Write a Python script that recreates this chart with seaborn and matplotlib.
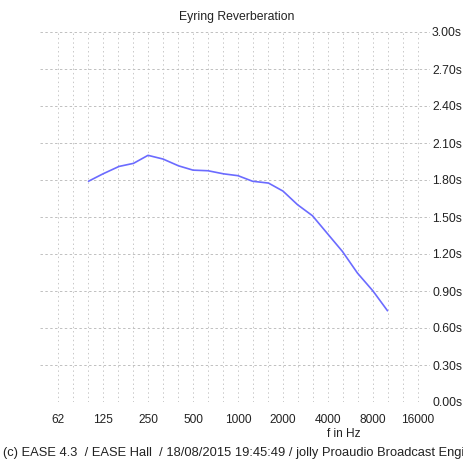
import numpy as np
import pandas as pd
import matplotlib
matplotlib.use("Agg")
import matplotlib.pyplot as plt
import seaborn as sns

# Third-octave band centre frequencies (Hz)
freqs = [100, 125, 160, 200, 250, 315, 400, 500, 630, 800, 1000, 1250,
         1600, 2000, 2500, 3150, 4000, 5000, 6300, 8000, 10000]
# Eyring reverberation time (s)
rt = [1.79, 1.85, 1.91, 1.935, 2.00, 1.97, 1.915, 1.88, 1.875, 1.85, 1.835,
      1.79, 1.775, 1.71, 1.60, 1.51, 1.36, 1.22, 1.045, 0.90, 0.74]

xtick_vals = [62.5, 125, 250, 500, 1000, 2000, 4000, 8000, 16000]
xtick_labels = ["62", "125", "250", "500", "1000", "2000", "4000", "8000", "16000"]
ytick_vals = [0.0, 0.3, 0.6, 0.9, 1.2, 1.5, 1.8, 2.1, 2.4, 2.7, 3.0]
ytick_labels = ["0.00s", "0.30s", "0.60s", "0.90s", "1.20s", "1.50s",
                "1.80s", "2.10s", "2.40s", "2.70s", "3.00s"]

title = "Eyring Reverberation"
xlabel = "f in Hz"
# footer as visible in the reference (cut at the image edge there)
footer = "(c) EASE 4.3  / EASE Hall  / 18/08/2015 19:45:49 / jolly Proaudio Broadcast Engi"

sns.set_style("white")
plt.rcParams["font.family"] = ["Liberation Sans", "DejaVu Sans"]

W = H = 463
fig = plt.figure(figsize=(W / 100, H / 100), dpi=100)
ax = fig.add_axes([40 / W, 1 - 402 / H, (430 - 40) / W, (402 - 32) / H])

df = pd.DataFrame({"f": freqs, "rt": rt})
sns.lineplot(data=df, x="f", y="rt", ax=ax, color="#6b6bff", linewidth=1.2)

ax.set_xscale("log", base=2)
px_per_oct = 45.0
ax.set_xlim(62.5 * 2 ** (-18 / px_per_oct), 16000 * 2 ** (12 / px_per_oct))
ax.set_ylim(0, 3.0)

# grid: vertical dotted lines at third-octave positions
third_oct = [62.5 * 2 ** (k / 3) for k in range(25)]
for f in third_oct:
    ax.axvline(f, color="#c8c8c8", linestyle=(0, (1.5, 3)), linewidth=0.7, zorder=0)
for v in ytick_vals:
    ax.axhline(v, color="#c0c0c0", linestyle=(0, (2.5, 2.5)), linewidth=0.7, zorder=0)

ax.set_xticks(xtick_vals)
ax.set_xticklabels(xtick_labels)
ax.minorticks_off()
ax.set_yticks(ytick_vals)
ax.set_yticklabels(ytick_labels)
ax.yaxis.tick_right()
ax.tick_params(axis="both", length=0, colors="#222222")
ax.tick_params(axis="x", pad=8.5, labelsize=8.6)
ax.tick_params(axis="y", pad=1.5, labelsize=8.8)
ax.set_xlabel("")
ax.set_ylabel("")
for s in ax.spines.values():
    s.set_visible(False)

fig.text(237 / W, 1 - 17 / H, title, ha="center", va="center", fontsize=8.8, color="#222222")
fig.text(344 / W, 1 - 434 / H, xlabel, ha="center", va="center", fontsize=8.6, color="#222222")
fig.text(3 / W, 1 - 453 / H, footer, ha="left", va="center", fontsize=9.25, color="#222222")

fig.savefig("out.png", dpi=100, facecolor="white")
